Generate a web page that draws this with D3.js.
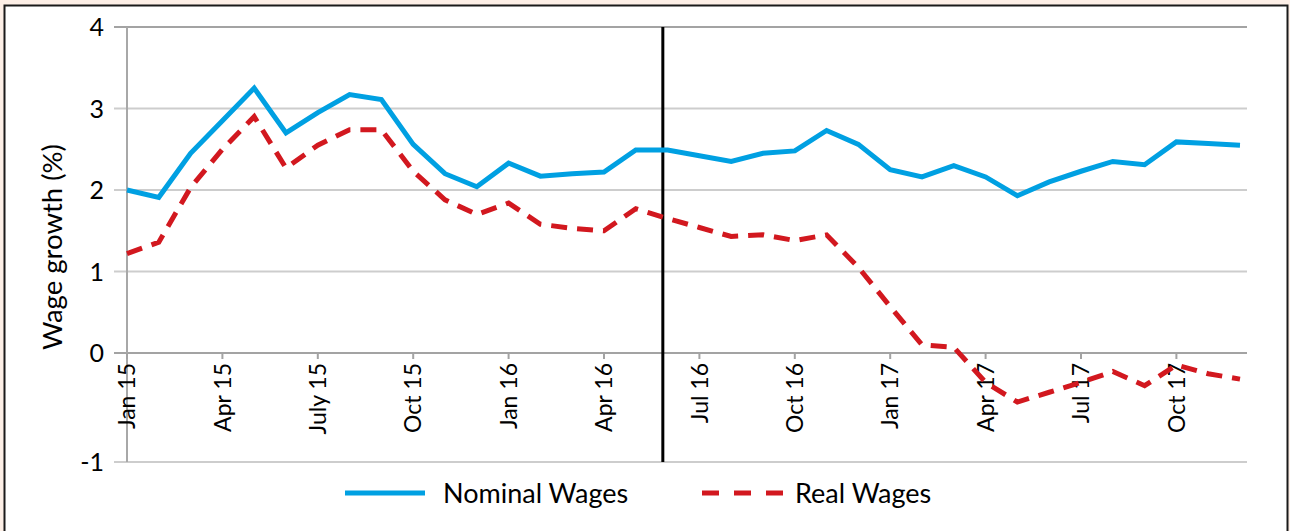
<!DOCTYPE html>
<html>
<head>
<meta charset="utf-8">
<script src="https://cdn.jsdelivr.net/npm/d3@7"></script>
<style>
  body { margin: 0; background: #fdefe6; }
  svg { display: block; }
  text { font-family: Lato, "Open Sans", sans-serif; fill: #000; }
</style>
</head>
<body>
<div id="chart"></div>
<script>
// Wage growth, Jan 2015 - Dec 2017 (monthly)
const width = 1290;
const height = 531;

const months = ["Jan 15","Feb 15","Mar 15","Apr 15","May 15","Jun 15","Jul 15","Aug 15","Sep 15","Oct 15","Nov 15","Dec 15",
                "Jan 16","Feb 16","Mar 16","Apr 16","May 16","Jun 16","Jul 16","Aug 16","Sep 16","Oct 16","Nov 16","Dec 16",
                "Jan 17","Feb 17","Mar 17","Apr 17","May 17","Jun 17","Jul 17","Aug 17","Sep 17","Oct 17","Nov 17","Dec 17"];

const nominal = [2.0, 1.91, 2.45, 2.85, 3.25, 2.7, 2.95, 3.17, 3.11, 2.56, 2.2, 2.04,
                 2.33, 2.17, 2.2, 2.22, 2.49, 2.49, 2.42, 2.35, 2.45, 2.48, 2.73, 2.56,
                 2.25, 2.16, 2.3, 2.16, 1.93, 2.1, 2.23, 2.35, 2.31, 2.59, 2.57, 2.55];

const real = [1.22, 1.36, 2.03, 2.5, 2.9, 2.27, 2.55, 2.74, 2.74, 2.23, 1.88, 1.7,
              1.84, 1.58, 1.53, 1.5, 1.77, 1.65, 1.54, 1.43, 1.45, 1.38, 1.45, 1.05,
              0.57, 0.1, 0.07, -0.27, -0.45, -0.36, -0.27, -0.17, -0.3, -0.11, -0.19, -0.24];

const tickMonths = [0, 3, 6, 9, 12, 15, 18, 21, 24, 27, 30, 33];
const tickLabels = ["Jan 15","Apr 15","July 15","Oct 15","Jan 16","Apr 16","Jul 16","Oct 16","Jan 17","Apr 17","Jul 17","Oct 17"];

const yTicks = [4, 3, 2, 1, 0, -1];
const referendum = 16.85; // month index of the black marker line

const seriesNames = ["Nominal Wages", "Real Wages"];
const colors = {nominal: "#00a0e2", real: "#d2181f"};

const svg = d3.select("#chart").append("svg")
  .attr("width", width)
  .attr("height", height);

// outer frame
svg.append("rect")
  .attr("x", 4.5).attr("y", 5.5)
  .attr("width", 1283).attr("height", 540)
  .attr("fill", "#fff")
  .attr("stroke", "#1a1a1a")
  .attr("stroke-width", 2);

// scales (below zero the original chart has a taller band)
const x = d3.scaleLinear().domain([0, months.length - 1]).range([127, 1240]);
const y = d3.scaleLinear().domain([-1, 0, 4]).range([462, 353, 27]);

const plotLeft = 114, plotRight = 1247;

// horizontal gridlines
svg.append("g")
  .selectAll("line")
  .data(yTicks)
  .join("line")
    .attr("x1", plotLeft).attr("x2", plotRight)
    .attr("y1", d => y(d)).attr("y2", d => y(d))
    .attr("stroke", d => (d === 0 || d === 4) ? "#a3a3a3" : "#cdcdcd")
    .attr("stroke-width", 2);

// y axis line
svg.append("line")
  .attr("x1", x(0)).attr("x2", x(0))
  .attr("y1", y(4)).attr("y2", y(-1))
  .attr("stroke", "#a8a8a8")
  .attr("stroke-width", 2);

// y labels
svg.append("g")
  .selectAll("text")
  .data(yTicks)
  .join("text")
    .attr("x", 104)
    .attr("y", d => y(d))
    .attr("dy", "0.36em")
    .attr("text-anchor", "end")
    .attr("font-size", 25)
    .text(d => d);

// x ticks and labels
const xt = svg.append("g");
xt.selectAll("line")
  .data(tickMonths)
  .join("line")
    .attr("x1", d => x(d)).attr("x2", d => x(d))
    .attr("y1", y(0)).attr("y2", y(0) + 6)
    .attr("stroke", "#a3a3a3")
    .attr("stroke-width", 2);

xt.selectAll("text")
  .data(tickMonths)
  .join("text")
    .attr("transform", d => `translate(${x(d)},${y(0) + 10}) rotate(-90)`)
    .attr("dy", "0.36em")
    .attr("text-anchor", "end")
    .attr("font-size", 23)
    .text((d, i) => tickLabels[i]);

// y title
svg.append("text")
  .attr("transform", `translate(52,247) rotate(-90)`)
  .attr("dy", "0.36em")
  .attr("text-anchor", "middle")
  .attr("font-size", 27.5)
  .text("Wage growth (%)");

// marker line
svg.append("line")
  .attr("x1", x(referendum)).attr("x2", x(referendum))
  .attr("y1", y(4)).attr("y2", y(-1))
  .attr("stroke", "#000")
  .attr("stroke-width", 3);

// series
const line = d3.line().x((d, i) => x(i)).y(d => y(d));

svg.append("path")
  .datum(nominal)
  .attr("d", line)
  .attr("fill", "none")
  .attr("stroke", colors.nominal)
  .attr("stroke-width", 5);

svg.append("path")
  .datum(real)
  .attr("d", line)
  .attr("fill", "none")
  .attr("stroke", colors.real)
  .attr("stroke-width", 5)
  .attr("stroke-dasharray", "16,10");

// legend
const legendY = 493;
const lg = svg.append("g");
lg.append("line")
  .attr("x1", 345).attr("x2", 425)
  .attr("y1", legendY).attr("y2", legendY)
  .attr("stroke", colors.nominal).attr("stroke-width", 5);
lg.append("text")
  .attr("x", 443).attr("y", legendY).attr("dy", "0.36em")
  .attr("font-size", 27)
  .text(seriesNames[0]);
lg.append("line")
  .attr("x1", 702).attr("x2", 783)
  .attr("y1", legendY).attr("y2", legendY)
  .attr("stroke", colors.real).attr("stroke-width", 5)
  .attr("stroke-dasharray", "17,15");
lg.append("text")
  .attr("x", 795).attr("y", legendY).attr("dy", "0.36em")
  .attr("font-size", 27)
  .text(seriesNames[1]);
</script>
</body>
</html>
